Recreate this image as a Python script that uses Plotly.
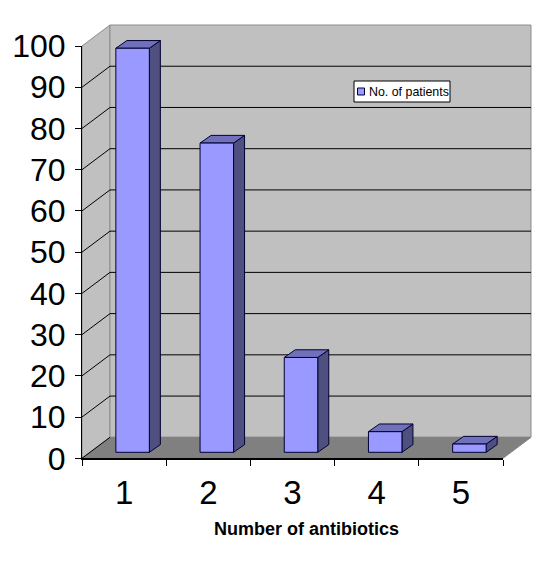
import plotly.graph_objects as go

categories = ["1", "2", "3", "4", "5"]
patients = [98, 75, 23, 5, 2]
y_ticks = list(range(0, 101, 10))
series_name = "No. of patients"
x_title = "Number of antibiotics"

W, H = 540, 562
LEFT, RIGHT, BOTTOM, TOP = 82.0, 503.0, 458.3, 46.0
SX = (RIGHT - LEFT) / 5
SY = (BOTTOM - TOP) / 100
WALL_DX, WALL_DY = 28 / SX, 21 / SY      # depth of the chart box, in data units
BAR_OX, BAR_OY = 8.5 / SX, 6 / SY        # front plane of the bars
BAR_DX, BAR_DY = 11 / SX, 7.7 / SY       # depth of a bar
BAR_W = 33.5 / SX
X0, X1 = -0.5, 4.5

WALL, FLOOR, EDGE = "#C0C0C0", "#808080", "#8C8C8C"
FRONT, SIDE, CAP = "#9999FF", "#4F4F80", "#7070BB"
FONT = "Liberation Sans"


def poly(xs, ys, fill, line="rgba(0,0,0,0)", width=1):
    return go.Scatter(x=xs, y=ys, mode="lines", fill="toself", fillcolor=fill,
                      line=dict(color=line, width=width), hoverinfo="skip", showlegend=False,
                      xaxis="x", yaxis="y")


fig = go.Figure()
ymax = y_ticks[-1]
# walls and floor
fig.add_trace(poly([X0, X0 + WALL_DX, X0 + WALL_DX, X0, X0],
                   [0, WALL_DY, ymax + WALL_DY, ymax, 0], WALL, EDGE))
fig.add_trace(poly([X0 + WALL_DX, X1 + WALL_DX, X1 + WALL_DX, X0 + WALL_DX, X0 + WALL_DX],
                   [WALL_DY, WALL_DY, ymax + WALL_DY, ymax + WALL_DY, WALL_DY], WALL, EDGE))
fig.add_trace(poly([X0, X1, X1 + WALL_DX, X0 + WALL_DX, X0],
                   [0, 0, WALL_DY, WALL_DY, 0], FLOOR, FLOOR))

# gridlines on left and back wall
gx, gy = [], []
for t in y_ticks[1:-1]:
    gx += [X0, X0 + WALL_DX, X1 + WALL_DX, None]
    gy += [t, t + WALL_DY, t + WALL_DY, None]
gx += [X0, X0 + WALL_DX, None]
gy += [0, WALL_DY, None]
fig.add_trace(go.Scatter(x=gx, y=gy, mode="lines", line=dict(color="#000000", width=1),
                         hoverinfo="skip", showlegend=False, xaxis="x", yaxis="y"))

# bar side and cap faces
for i, v in enumerate(patients):
    xl = i - BAR_W / 2 + BAR_OX
    xr = i + BAR_W / 2 + BAR_OX
    bot = BAR_OY
    top = v + BAR_OY
    fig.add_trace(poly([xr, xr + BAR_DX, xr + BAR_DX, xr, xr],
                       [bot, bot + BAR_DY, top + BAR_DY, top, bot], SIDE, "#000033"))
    fig.add_trace(poly([xl, xr, xr + BAR_DX, xl + BAR_DX, xl],
                       [top, top, top + BAR_DY, top + BAR_DY, top], CAP, "#000033"))

# bar front faces on a second axis pair, shifted to the bars' front plane
fig.add_trace(go.Bar(x=categories, y=patients, name=series_name, width=BAR_W,
                     marker=dict(color=FRONT, line=dict(color="#000033", width=1)),
                     showlegend=False, xaxis="x2", yaxis="y2"))

# invisible carrier for the visible front axes
fig.add_trace(go.Scatter(x=categories, y=patients, mode="none", hoverinfo="skip",
                         showlegend=False, xaxis="x3", yaxis="y3"))


def px_x(p, shift=0.0):
    return (p - LEFT - shift) / SX - 0.5


def px_y(p, shift=0.0):
    return (BOTTOM - shift - p) / SY


hidden = dict(visible=False, showgrid=False, zeroline=False, fixedrange=True, automargin=False)
legend_box = (354, 81, 450, 102)
swatch = (357.5, 88, 364.5, 95)
fig.update_layout(
    template="none",
    width=W, height=H, margin=dict(l=0, r=0, t=0, b=0, pad=0), autosize=False,
    paper_bgcolor="#FFFFFF", plot_bgcolor="rgba(0,0,0,0)", showlegend=False,
    font=dict(family=FONT, color="#000000"),
    xaxis=dict(hidden, domain=[0, 1], range=[px_x(0), px_x(W)]),
    yaxis=dict(hidden, domain=[0, 1], range=[px_y(H), px_y(0)]),
    xaxis2=dict(hidden, type="category", domain=[0, 1], anchor="y2",
                range=[px_x(0, BAR_OX * SX), px_x(W, BAR_OX * SX)]),
    yaxis2=dict(hidden, domain=[0, 1], anchor="x2",
                range=[px_y(H, BAR_OY * SY), px_y(0, BAR_OY * SY)]),
    xaxis3=dict(type="category", domain=[LEFT / W, RIGHT / W], anchor="y3", range=[X0, X1],
                categoryorder="array", categoryarray=categories, automargin=False,
                showgrid=False, zeroline=False, showline=True, linecolor="#000000", linewidth=2,
                ticks="outside", ticklen=6, tickcolor="#000000", tickwidth=1, tickson="boundaries",
                tickfont=dict(size=33, family=FONT), ticklabelstandoff=4, fixedrange=True),
    yaxis3=dict(domain=[1 - BOTTOM / H, 1 - TOP / H], anchor="x3", range=[0, ymax],
                tickvals=y_ticks, showgrid=False, zeroline=False, showline=True, automargin=False,
                linecolor="#000000", linewidth=1, ticks="outside", ticklen=6,
                tickcolor="#000000", tickwidth=1, tickfont=dict(size=32, family=FONT),
                ticklabelstandoff=3, fixedrange=True),
    shapes=[
        dict(type="rect", xref="paper", yref="paper", x0=legend_box[0] / W, x1=legend_box[2] / W,
             y0=1 - legend_box[3] / H, y1=1 - legend_box[1] / H,
             fillcolor="#FFFFFF", line=dict(color="#000000", width=1), layer="above"),
        dict(type="rect", xref="paper", yref="paper", x0=swatch[0] / W, x1=swatch[2] / W,
             y0=1 - swatch[3] / H, y1=1 - swatch[1] / H,
             fillcolor=FRONT, line=dict(color="#000033", width=1), layer="above"),
    ],
    annotations=[
        dict(text=series_name, xref="paper", yref="paper", x=366.5 / W, y=1 - 91.5 / H,
             xanchor="left", yanchor="middle", showarrow=False,
             font=dict(size=12.4, family=FONT, color="#000000")),
        dict(text=f"<b>{x_title}</b>", xref="paper", yref="paper", x=306 / W, y=1 - 529 / H,
             xanchor="center", yanchor="middle", showarrow=False,
             font=dict(size=18, family=FONT, color="#000000")),
    ],
)

fig.write_html("out.html", config=dict(displayModeBar=False, responsive=False),
               post_script="document.body.style.margin='0';document.body.style.overflow='hidden';")
